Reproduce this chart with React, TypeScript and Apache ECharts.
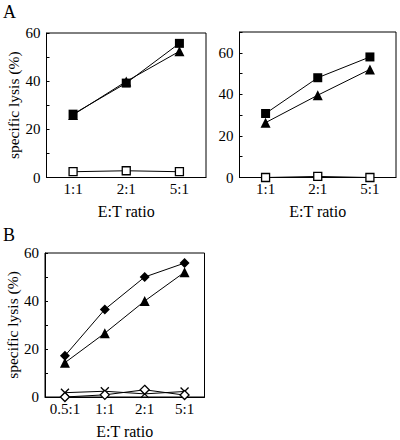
import React, { useEffect, useRef } from "react";
import * as echarts from "echarts";

const ratiosA = ["1:1", "2:1", "5:1"];
const ratiosB = ["0.5:1", "1:1", "2:1", "5:1"];

const a1FilledSquare = [26.3, 39.2, 55.7];
const a1Triangle = [26.0, 39.9, 52.4];
const a1OpenSquare = [2.4, 2.8, 2.4];

const a2FilledSquare = [30.8, 48.0, 58.0];
const a2Triangle = [26.4, 39.6, 52.0];
const a2OpenSquare = [0.0, 0.5, 0.0];

const bFilledDiamond = [17.2, 36.5, 50.0, 55.8];
const bTriangle = [14.3, 26.6, 40.0, 52.0];
const bCross = [1.8, 2.4, 1.3, 2.3];
const bOpenDiamond = [0.0, 0.9, 3.0, 0.8];

const FONT = "Liberation Serif";
const CROSS = "path://M0,0L10,10M10,0L0,10";

function xAxis(gridIndex: number, cats: string[]) {
  return {
    type: "category",
    gridIndex,
    data: cats,
    boundaryGap: true,
    name: "E:T ratio",
    nameLocation: "middle",
    nameGap: 26,
    nameTextStyle: { fontFamily: FONT, fontSize: 16, color: "#000" },
    axisLine: { lineStyle: { color: "#000", width: 1 } },
    axisTick: { inside: true, length: 3, alignWithLabel: false, lineStyle: { color: "#000" } },
    axisLabel: { fontFamily: FONT, fontSize: 15, color: "#000", margin: 4, interval: 0 },
    splitLine: { show: false },
  };
}

function yAxis(gridIndex: number, max: number, showName: boolean) {
  return {
    type: "value",
    gridIndex,
    min: 0,
    max,
    interval: 10,
    name: showName ? "specific lysis (%)" : "",
    nameLocation: "middle",
    nameGap: 23,
    nameTextStyle: { fontFamily: FONT, fontSize: 15.5, color: "#000" },
    axisLine: { show: true, lineStyle: { color: "#000", width: 1 } },
    axisTick: { show: true, inside: true, length: 3, lineStyle: { color: "#000" } },
    axisLabel: {
      fontFamily: FONT,
      fontSize: 15,
      color: "#000",
      margin: 6,
      formatter: (v: number) => (v % 20 === 0 && v <= 60 ? String(v) : ""),
    },
    splitLine: { show: false },
  };
}

function line(xi: number, data: number[], symbol: string, size: number, filled: boolean, z = 2) {
  return {
    type: "line",
    xAxisIndex: xi,
    yAxisIndex: xi,
    data,
    symbol,
    symbolSize: size,
    showSymbol: true,
    z,
    lineStyle: { color: "#000", width: 1 },
    itemStyle: filled
      ? { color: "#000", borderColor: "#000", borderWidth: 0 }
      : { color: symbol === CROSS ? "rgba(0,0,0,0)" : "#fff", borderColor: "#000", borderWidth: 1.3 },
  };
}

export default function App() {
  const ref = useRef<HTMLDivElement>(null);
  useEffect(() => {
    if (!ref.current) return;
    const chart = echarts.init(ref.current, null, { renderer: "svg" });
    chart.setOption({
      animation: false,
      backgroundColor: "#fff",
      textStyle: { fontFamily: FONT },
      grid: [
        { left: 46.5, top: 33, width: 159.5, height: 144.5, show: true, borderColor: "#000", borderWidth: 1, containLabel: false },
        { left: 239.5, top: 32, width: 156.5, height: 145.5, show: true, borderColor: "#000", borderWidth: 1, containLabel: false },
        { left: 45, top: 253, width: 159.5, height: 144.5, show: true, borderColor: "#000", borderWidth: 1, containLabel: false },
      ],
      xAxis: [xAxis(0, ratiosA), xAxis(1, ratiosA), xAxis(2, ratiosB)],
      yAxis: [yAxis(0, 60, true), yAxis(1, 70, false), yAxis(2, 60, true)],
      graphic: [
        { type: "text", left: 3, top: 3, style: { text: "A", font: `18px '${FONT}'`, fill: "#000" } },
        { type: "text", left: 3, top: 226, style: { text: "B", font: `18px '${FONT}'`, fill: "#000" } },
      ],
      series: [
        line(0, a1OpenSquare, "rect", 8, false),
        line(0, a1Triangle, "triangle", 10, true),
        line(0, a1FilledSquare, "rect", 9, true),
        line(1, a2OpenSquare, "rect", 8, false),
        line(1, a2Triangle, "triangle", 10, true),
        line(1, a2FilledSquare, "rect", 9, true),
        line(2, bCross, CROSS, 8, false),
        line(2, bOpenDiamond, "diamond", 9, false, 3),
        line(2, bTriangle, "triangle", 10, true),
        line(2, bFilledDiamond, "diamond", 10, true),
      ],
    });
    return () => chart.dispose();
  }, []);
  return <div ref={ref} style={{ position: "fixed", left: 0, top: 0, width: 400, height: 440 }} />;
}
